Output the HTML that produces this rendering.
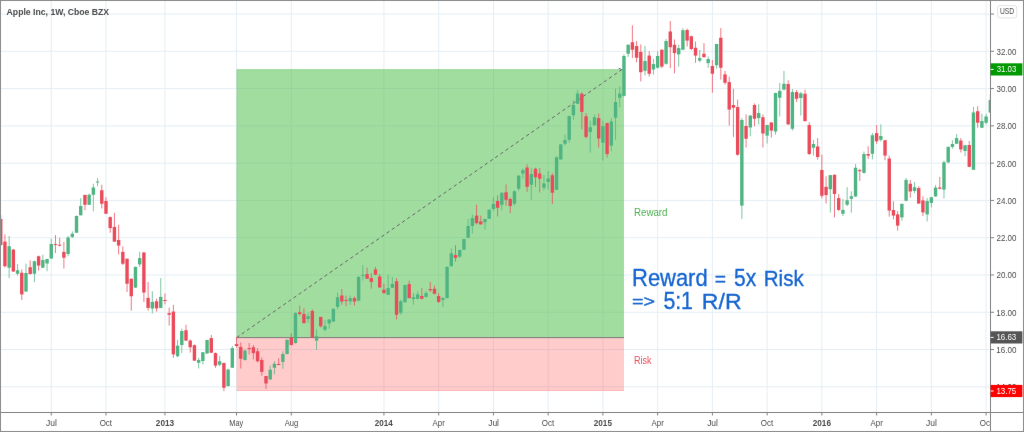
<!DOCTYPE html>
<html><head><meta charset="utf-8"><style>
html,body{margin:0;padding:0;background:#fff;}
body{width:1024px;height:432px;overflow:hidden;position:relative;font-family:"Liberation Sans",sans-serif;}
#wrap{position:absolute;left:0;top:0;width:1024px;height:432px;will-change:transform;}
</style></head><body><div id="wrap">
<svg width="1024" height="432" viewBox="0 0 1024 432" style="position:absolute;left:0;top:0;display:block">
<rect x="0" y="0" width="1024" height="432" fill="#ffffff"/>
<defs><filter id="bl" x="0" y="0" width="1" height="1" filterUnits="objectBoundingBox" color-interpolation-filters="sRGB"><feConvolveMatrix order="3" kernelMatrix="0.00163 0.03713 0.00163 0.03713 0.84497 0.03713 0.00163 0.03713 0.00163" divisor="1" edgeMode="duplicate" preserveAlpha="true"/></filter></defs><g filter="url(#bl)">
<rect x="0" y="0" width="1024" height="432" fill="#ffffff"/>
<defs><clipPath id="cc"><rect x="1" y="1" width="989" height="411"/></clipPath></defs>
<g clip-path="url(#cc)">
<rect x="50.75" y="0" width="1" height="412" fill="#e4eef5"/>
<rect x="105.49" y="0" width="1" height="412" fill="#e4eef5"/>
<rect x="164.45" y="0" width="1" height="412" fill="#e4eef5"/>
<rect x="236.03" y="0" width="1" height="412" fill="#e4eef5"/>
<rect x="290.78" y="0" width="1" height="412" fill="#e4eef5"/>
<rect x="383.42" y="0" width="1" height="412" fill="#e4eef5"/>
<rect x="438.16" y="0" width="1" height="412" fill="#e4eef5"/>
<rect x="492.91" y="0" width="1" height="412" fill="#e4eef5"/>
<rect x="547.65" y="0" width="1" height="412" fill="#e4eef5"/>
<rect x="602.39" y="0" width="1" height="412" fill="#e4eef5"/>
<rect x="657.13" y="0" width="1" height="412" fill="#e4eef5"/>
<rect x="711.88" y="0" width="1" height="412" fill="#e4eef5"/>
<rect x="766.62" y="0" width="1" height="412" fill="#e4eef5"/>
<rect x="821.36" y="0" width="1" height="412" fill="#e4eef5"/>
<rect x="876.11" y="0" width="1" height="412" fill="#e4eef5"/>
<rect x="930.85" y="0" width="1" height="412" fill="#e4eef5"/>
<rect x="985.59" y="0" width="1" height="412" fill="#e4eef5"/>
<rect x="0" y="13.52" width="990" height="1" fill="#e4eef5"/>
<rect x="0" y="50.80" width="990" height="1" fill="#e4eef5"/>
<rect x="0" y="88.08" width="990" height="1" fill="#e4eef5"/>
<rect x="0" y="125.36" width="990" height="1" fill="#e4eef5"/>
<rect x="0" y="162.64" width="990" height="1" fill="#e4eef5"/>
<rect x="0" y="199.92" width="990" height="1" fill="#e4eef5"/>
<rect x="0" y="237.20" width="990" height="1" fill="#e4eef5"/>
<rect x="0" y="274.48" width="990" height="1" fill="#e4eef5"/>
<rect x="0" y="311.76" width="990" height="1" fill="#e4eef5"/>
<rect x="0" y="349.04" width="990" height="1" fill="#e4eef5"/>
<rect x="0" y="386.32" width="990" height="1" fill="#e4eef5"/>
<rect x="236.6" y="69.2" width="387.40" height="268.40" fill="rgba(69,187,65,0.5)"/>
<rect x="236.6" y="337.6" width="387.40" height="53.40" fill="rgba(255,82,82,0.30)"/>
<rect x="236.6" y="69.2" width="387.40" height="1" fill="rgba(0,140,0,0.10)"/>
<rect x="236.6" y="70.2" width="1" height="267.40" fill="rgba(0,140,0,0.10)"/>
<rect x="236.6" y="390.0" width="387.40" height="1" fill="rgba(255,0,0,0.10)"/>
<rect x="236.6" y="337.10" width="387.40" height="1" fill="#7a7a7a"/>
<line x1="236.6" y1="337.6" x2="621.8" y2="69.6" stroke="#666666" stroke-width="1" stroke-dasharray="3.4 2.9"/>
<polyline points="618.6,68.2 621.8,69.6" stroke="#707070" stroke-width="1" fill="none"/>
<rect x="0.22" y="215.00" width="1" height="31.00" fill="#ea4b5b" fill-opacity="0.75"/>
<rect x="-0.98" y="219.00" width="3.4" height="26.00" fill="#ea4b5b"/>
<rect x="4.43" y="234.40" width="1" height="33.10" fill="#ea4b5b" fill-opacity="0.75"/>
<rect x="3.23" y="241.60" width="3.4" height="24.65" fill="#ea4b5b"/>
<rect x="8.64" y="236.00" width="1" height="42.10" fill="#4fb482" fill-opacity="0.75"/>
<rect x="7.44" y="246.25" width="3.4" height="21.50" fill="#4fb482"/>
<rect x="12.85" y="249.00" width="1" height="23.00" fill="#ea4b5b" fill-opacity="0.75"/>
<rect x="11.65" y="249.60" width="3.4" height="21.90" fill="#ea4b5b"/>
<rect x="17.06" y="264.00" width="1" height="11.60" fill="#4fb482" fill-opacity="0.75"/>
<rect x="15.86" y="270.25" width="3.4" height="3.50" fill="#4fb482"/>
<rect x="21.27" y="269.40" width="1" height="30.60" fill="#ea4b5b" fill-opacity="0.75"/>
<rect x="20.07" y="272.75" width="3.4" height="21.65" fill="#ea4b5b"/>
<rect x="25.48" y="263.75" width="1" height="28.25" fill="#4fb482" fill-opacity="0.75"/>
<rect x="24.28" y="273.00" width="3.4" height="18.50" fill="#4fb482"/>
<rect x="29.70" y="260.40" width="1" height="14.10" fill="#ea4b5b" fill-opacity="0.75"/>
<rect x="28.50" y="267.25" width="3.4" height="6.75" fill="#ea4b5b"/>
<rect x="33.91" y="260.60" width="1" height="21.65" fill="#4fb482" fill-opacity="0.75"/>
<rect x="32.71" y="261.25" width="3.4" height="12.50" fill="#4fb482"/>
<rect x="38.12" y="255.60" width="1" height="15.00" fill="#ea4b5b" fill-opacity="0.75"/>
<rect x="36.92" y="256.25" width="3.4" height="9.35" fill="#ea4b5b"/>
<rect x="42.33" y="254.75" width="1" height="13.35" fill="#4fb482" fill-opacity="0.75"/>
<rect x="41.13" y="260.00" width="3.4" height="7.75" fill="#4fb482"/>
<rect x="46.54" y="258.75" width="1" height="12.50" fill="#4fb482" fill-opacity="0.75"/>
<rect x="45.34" y="259.00" width="3.4" height="4.50" fill="#4fb482"/>
<rect x="50.75" y="238.75" width="1" height="20.00" fill="#4fb482" fill-opacity="0.75"/>
<rect x="49.55" y="244.00" width="3.4" height="14.50" fill="#4fb482"/>
<rect x="54.96" y="235.00" width="1" height="18.10" fill="#ea4b5b" fill-opacity="0.75"/>
<rect x="53.76" y="244.10" width="3.4" height="1.00" fill="#ea4b5b"/>
<rect x="59.17" y="237.75" width="1" height="8.50" fill="#ea4b5b" fill-opacity="0.75"/>
<rect x="57.97" y="244.75" width="3.4" height="1.00" fill="#ea4b5b"/>
<rect x="63.38" y="241.90" width="1" height="26.60" fill="#ea4b5b" fill-opacity="0.75"/>
<rect x="62.18" y="251.90" width="3.4" height="5.85" fill="#ea4b5b"/>
<rect x="67.59" y="236.00" width="1" height="20.25" fill="#4fb482" fill-opacity="0.75"/>
<rect x="66.39" y="237.50" width="3.4" height="16.50" fill="#4fb482"/>
<rect x="71.81" y="231.25" width="1" height="6.85" fill="#4fb482" fill-opacity="0.75"/>
<rect x="70.61" y="233.75" width="3.4" height="3.15" fill="#4fb482"/>
<rect x="76.02" y="215.50" width="1" height="17.50" fill="#4fb482" fill-opacity="0.75"/>
<rect x="74.82" y="216.00" width="3.4" height="16.75" fill="#4fb482"/>
<rect x="80.23" y="198.10" width="1" height="17.50" fill="#4fb482" fill-opacity="0.75"/>
<rect x="79.03" y="206.00" width="3.4" height="9.25" fill="#4fb482"/>
<rect x="84.44" y="194.40" width="1" height="15.85" fill="#ea4b5b" fill-opacity="0.75"/>
<rect x="83.24" y="195.00" width="3.4" height="9.75" fill="#ea4b5b"/>
<rect x="88.65" y="193.50" width="1" height="11.50" fill="#4fb482" fill-opacity="0.75"/>
<rect x="87.45" y="194.75" width="3.4" height="10.00" fill="#4fb482"/>
<rect x="92.86" y="183.75" width="1" height="27.50" fill="#4fb482" fill-opacity="0.75"/>
<rect x="91.66" y="187.50" width="3.4" height="7.25" fill="#4fb482"/>
<rect x="97.07" y="178.00" width="1" height="8.25" fill="#4fb482" fill-opacity="0.75"/>
<rect x="95.87" y="181.50" width="3.4" height="1.00" fill="#4fb482"/>
<rect x="101.28" y="184.75" width="1" height="23.75" fill="#ea4b5b" fill-opacity="0.75"/>
<rect x="100.08" y="190.25" width="3.4" height="13.50" fill="#ea4b5b"/>
<rect x="105.49" y="197.25" width="1" height="16.75" fill="#ea4b5b" fill-opacity="0.75"/>
<rect x="104.29" y="201.00" width="3.4" height="12.75" fill="#ea4b5b"/>
<rect x="109.70" y="216.50" width="1" height="16.25" fill="#ea4b5b" fill-opacity="0.75"/>
<rect x="108.50" y="217.10" width="3.4" height="11.00" fill="#ea4b5b"/>
<rect x="113.92" y="212.75" width="1" height="29.25" fill="#ea4b5b" fill-opacity="0.75"/>
<rect x="112.72" y="226.90" width="3.4" height="14.70" fill="#ea4b5b"/>
<rect x="118.13" y="224.75" width="1" height="29.65" fill="#ea4b5b" fill-opacity="0.75"/>
<rect x="116.93" y="240.00" width="3.4" height="5.60" fill="#ea4b5b"/>
<rect x="122.34" y="246.25" width="1" height="18.75" fill="#ea4b5b" fill-opacity="0.75"/>
<rect x="121.14" y="251.90" width="3.4" height="11.85" fill="#ea4b5b"/>
<rect x="126.55" y="258.50" width="1" height="33.40" fill="#ea4b5b" fill-opacity="0.75"/>
<rect x="125.35" y="258.75" width="3.4" height="25.00" fill="#ea4b5b"/>
<rect x="130.76" y="278.50" width="1" height="32.10" fill="#ea4b5b" fill-opacity="0.75"/>
<rect x="129.56" y="278.75" width="3.4" height="17.50" fill="#ea4b5b"/>
<rect x="134.97" y="266.50" width="1" height="21.50" fill="#4fb482" fill-opacity="0.75"/>
<rect x="133.77" y="266.90" width="3.4" height="20.70" fill="#4fb482"/>
<rect x="139.18" y="251.90" width="1" height="15.00" fill="#4fb482" fill-opacity="0.75"/>
<rect x="137.98" y="258.10" width="3.4" height="6.30" fill="#4fb482"/>
<rect x="143.39" y="252.00" width="1" height="49.90" fill="#ea4b5b" fill-opacity="0.75"/>
<rect x="142.19" y="252.50" width="3.4" height="40.00" fill="#ea4b5b"/>
<rect x="147.60" y="281.90" width="1" height="28.70" fill="#ea4b5b" fill-opacity="0.75"/>
<rect x="146.40" y="297.90" width="3.4" height="10.00" fill="#ea4b5b"/>
<rect x="151.81" y="291.25" width="1" height="22.25" fill="#4fb482" fill-opacity="0.75"/>
<rect x="150.61" y="301.90" width="3.4" height="6.60" fill="#4fb482"/>
<rect x="156.03" y="298.75" width="1" height="12.75" fill="#ea4b5b" fill-opacity="0.75"/>
<rect x="154.83" y="301.25" width="3.4" height="7.15" fill="#ea4b5b"/>
<rect x="160.24" y="278.10" width="1" height="30.10" fill="#4fb482" fill-opacity="0.75"/>
<rect x="159.04" y="296.90" width="3.4" height="11.00" fill="#4fb482"/>
<rect x="164.45" y="293.50" width="1" height="10.90" fill="#ea4b5b" fill-opacity="0.75"/>
<rect x="163.25" y="300.00" width="3.4" height="1.00" fill="#ea4b5b"/>
<rect x="168.66" y="307.50" width="1" height="18.10" fill="#ea4b5b" fill-opacity="0.75"/>
<rect x="167.46" y="313.10" width="3.4" height="1.65" fill="#ea4b5b"/>
<rect x="172.87" y="304.75" width="1" height="53.00" fill="#ea4b5b" fill-opacity="0.75"/>
<rect x="171.67" y="311.60" width="3.4" height="42.80" fill="#ea4b5b"/>
<rect x="177.08" y="339.75" width="1" height="17.50" fill="#4fb482" fill-opacity="0.75"/>
<rect x="175.88" y="345.60" width="3.4" height="10.65" fill="#4fb482"/>
<rect x="181.29" y="328.75" width="1" height="24.35" fill="#4fb482" fill-opacity="0.75"/>
<rect x="180.09" y="331.00" width="3.4" height="14.00" fill="#4fb482"/>
<rect x="185.50" y="324.75" width="1" height="16.25" fill="#ea4b5b" fill-opacity="0.75"/>
<rect x="184.30" y="330.25" width="3.4" height="10.35" fill="#ea4b5b"/>
<rect x="189.71" y="339.40" width="1" height="13.10" fill="#ea4b5b" fill-opacity="0.75"/>
<rect x="188.51" y="340.60" width="3.4" height="6.65" fill="#ea4b5b"/>
<rect x="193.92" y="344.40" width="1" height="16.60" fill="#ea4b5b" fill-opacity="0.75"/>
<rect x="192.72" y="345.25" width="3.4" height="15.35" fill="#ea4b5b"/>
<rect x="198.14" y="357.75" width="1" height="10.75" fill="#4fb482" fill-opacity="0.75"/>
<rect x="196.94" y="360.00" width="3.4" height="2.75" fill="#4fb482"/>
<rect x="202.35" y="352.00" width="1" height="12.40" fill="#4fb482" fill-opacity="0.75"/>
<rect x="201.15" y="352.25" width="3.4" height="8.75" fill="#4fb482"/>
<rect x="206.56" y="339.75" width="1" height="14.00" fill="#4fb482" fill-opacity="0.75"/>
<rect x="205.36" y="340.00" width="3.4" height="13.50" fill="#4fb482"/>
<rect x="210.77" y="335.00" width="1" height="18.10" fill="#ea4b5b" fill-opacity="0.75"/>
<rect x="209.57" y="338.10" width="3.4" height="14.65" fill="#ea4b5b"/>
<rect x="214.98" y="352.50" width="1" height="15.25" fill="#ea4b5b" fill-opacity="0.75"/>
<rect x="213.78" y="353.10" width="3.4" height="12.50" fill="#ea4b5b"/>
<rect x="219.19" y="356.00" width="1" height="10.25" fill="#4fb482" fill-opacity="0.75"/>
<rect x="217.99" y="361.25" width="3.4" height="3.50" fill="#4fb482"/>
<rect x="223.40" y="362.50" width="1" height="28.60" fill="#ea4b5b" fill-opacity="0.75"/>
<rect x="222.20" y="363.00" width="3.4" height="24.75" fill="#ea4b5b"/>
<rect x="227.61" y="368.75" width="1" height="17.75" fill="#4fb482" fill-opacity="0.75"/>
<rect x="226.41" y="369.50" width="3.4" height="16.60" fill="#4fb482"/>
<rect x="231.82" y="346.00" width="1" height="22.00" fill="#4fb482" fill-opacity="0.75"/>
<rect x="230.62" y="348.10" width="3.4" height="19.65" fill="#4fb482"/>
<rect x="236.03" y="336.90" width="1" height="10.60" fill="#ea4b5b" fill-opacity="0.75"/>
<rect x="234.83" y="344.10" width="3.4" height="1.90" fill="#ea4b5b"/>
<rect x="240.25" y="342.50" width="1" height="26.00" fill="#ea4b5b" fill-opacity="0.75"/>
<rect x="239.05" y="346.90" width="3.4" height="11.85" fill="#ea4b5b"/>
<rect x="244.46" y="349.40" width="1" height="11.20" fill="#4fb482" fill-opacity="0.75"/>
<rect x="243.26" y="350.60" width="3.4" height="9.40" fill="#4fb482"/>
<rect x="248.67" y="343.10" width="1" height="11.30" fill="#ea4b5b" fill-opacity="0.75"/>
<rect x="247.47" y="348.10" width="3.4" height="1.00" fill="#ea4b5b"/>
<rect x="252.88" y="345.00" width="1" height="14.40" fill="#ea4b5b" fill-opacity="0.75"/>
<rect x="251.68" y="347.25" width="3.4" height="5.85" fill="#ea4b5b"/>
<rect x="257.09" y="348.10" width="1" height="14.40" fill="#ea4b5b" fill-opacity="0.75"/>
<rect x="255.89" y="351.25" width="3.4" height="10.00" fill="#ea4b5b"/>
<rect x="261.30" y="357.50" width="1" height="18.10" fill="#ea4b5b" fill-opacity="0.75"/>
<rect x="260.10" y="360.00" width="3.4" height="11.90" fill="#ea4b5b"/>
<rect x="265.51" y="376.00" width="1" height="13.00" fill="#ea4b5b" fill-opacity="0.75"/>
<rect x="264.31" y="376.00" width="3.4" height="7.50" fill="#ea4b5b"/>
<rect x="269.72" y="365.60" width="1" height="14.40" fill="#4fb482" fill-opacity="0.75"/>
<rect x="268.52" y="369.75" width="3.4" height="9.65" fill="#4fb482"/>
<rect x="273.93" y="361.25" width="1" height="13.15" fill="#4fb482" fill-opacity="0.75"/>
<rect x="272.73" y="363.75" width="3.4" height="4.00" fill="#4fb482"/>
<rect x="278.14" y="358.10" width="1" height="7.10" fill="#ea4b5b" fill-opacity="0.75"/>
<rect x="276.94" y="364.00" width="3.4" height="1.00" fill="#ea4b5b"/>
<rect x="282.36" y="351.25" width="1" height="17.50" fill="#4fb482" fill-opacity="0.75"/>
<rect x="281.16" y="354.00" width="3.4" height="7.90" fill="#4fb482"/>
<rect x="286.57" y="339.50" width="1" height="14.90" fill="#4fb482" fill-opacity="0.75"/>
<rect x="285.37" y="339.75" width="3.4" height="14.25" fill="#4fb482"/>
<rect x="290.78" y="333.10" width="1" height="12.50" fill="#ea4b5b" fill-opacity="0.75"/>
<rect x="289.58" y="337.75" width="3.4" height="7.25" fill="#ea4b5b"/>
<rect x="294.99" y="312.25" width="1" height="31.25" fill="#4fb482" fill-opacity="0.75"/>
<rect x="293.79" y="313.10" width="3.4" height="30.00" fill="#4fb482"/>
<rect x="299.20" y="305.60" width="1" height="10.00" fill="#ea4b5b" fill-opacity="0.75"/>
<rect x="298.00" y="312.25" width="3.4" height="1.75" fill="#ea4b5b"/>
<rect x="303.41" y="308.10" width="1" height="15.65" fill="#ea4b5b" fill-opacity="0.75"/>
<rect x="302.21" y="314.00" width="3.4" height="9.10" fill="#ea4b5b"/>
<rect x="307.62" y="313.10" width="1" height="9.40" fill="#4fb482" fill-opacity="0.75"/>
<rect x="306.42" y="316.25" width="3.4" height="2.75" fill="#4fb482"/>
<rect x="311.83" y="309.40" width="1" height="28.70" fill="#ea4b5b" fill-opacity="0.75"/>
<rect x="310.63" y="311.00" width="3.4" height="26.75" fill="#ea4b5b"/>
<rect x="316.04" y="329.40" width="1" height="20.60" fill="#4fb482" fill-opacity="0.75"/>
<rect x="314.84" y="336.25" width="3.4" height="4.35" fill="#4fb482"/>
<rect x="320.25" y="316.90" width="1" height="10.60" fill="#ea4b5b" fill-opacity="0.75"/>
<rect x="319.05" y="316.90" width="3.4" height="9.35" fill="#ea4b5b"/>
<rect x="324.47" y="320.00" width="1" height="11.25" fill="#4fb482" fill-opacity="0.75"/>
<rect x="323.27" y="326.00" width="3.4" height="3.75" fill="#4fb482"/>
<rect x="328.68" y="319.40" width="1" height="9.35" fill="#4fb482" fill-opacity="0.75"/>
<rect x="327.48" y="319.40" width="3.4" height="4.10" fill="#4fb482"/>
<rect x="332.89" y="308.75" width="1" height="13.15" fill="#4fb482" fill-opacity="0.75"/>
<rect x="331.69" y="308.75" width="3.4" height="12.75" fill="#4fb482"/>
<rect x="337.10" y="292.60" width="1" height="16.80" fill="#4fb482" fill-opacity="0.75"/>
<rect x="335.90" y="297.25" width="3.4" height="9.65" fill="#4fb482"/>
<rect x="341.31" y="289.00" width="1" height="15.75" fill="#ea4b5b" fill-opacity="0.75"/>
<rect x="340.11" y="295.50" width="3.4" height="6.00" fill="#ea4b5b"/>
<rect x="345.52" y="295.60" width="1" height="10.65" fill="#ea4b5b" fill-opacity="0.75"/>
<rect x="344.32" y="300.00" width="3.4" height="1.00" fill="#ea4b5b"/>
<rect x="349.73" y="295.40" width="1" height="9.60" fill="#4fb482" fill-opacity="0.75"/>
<rect x="348.53" y="298.10" width="3.4" height="3.30" fill="#4fb482"/>
<rect x="353.94" y="296.40" width="1" height="9.20" fill="#ea4b5b" fill-opacity="0.75"/>
<rect x="352.74" y="298.10" width="3.4" height="3.40" fill="#ea4b5b"/>
<rect x="358.15" y="276.25" width="1" height="25.00" fill="#4fb482" fill-opacity="0.75"/>
<rect x="356.95" y="276.90" width="3.4" height="23.70" fill="#4fb482"/>
<rect x="362.36" y="265.00" width="1" height="15.60" fill="#4fb482" fill-opacity="0.75"/>
<rect x="361.16" y="275.00" width="3.4" height="1.00" fill="#4fb482"/>
<rect x="366.58" y="267.50" width="1" height="11.50" fill="#ea4b5b" fill-opacity="0.75"/>
<rect x="365.38" y="274.10" width="3.4" height="4.65" fill="#ea4b5b"/>
<rect x="370.79" y="273.10" width="1" height="15.65" fill="#ea4b5b" fill-opacity="0.75"/>
<rect x="369.59" y="278.10" width="3.4" height="3.80" fill="#ea4b5b"/>
<rect x="375.00" y="266.90" width="1" height="8.10" fill="#ea4b5b" fill-opacity="0.75"/>
<rect x="373.80" y="269.40" width="3.4" height="5.35" fill="#ea4b5b"/>
<rect x="379.21" y="274.00" width="1" height="13.75" fill="#ea4b5b" fill-opacity="0.75"/>
<rect x="378.01" y="276.50" width="3.4" height="11.00" fill="#ea4b5b"/>
<rect x="383.42" y="283.75" width="1" height="9.75" fill="#ea4b5b" fill-opacity="0.75"/>
<rect x="382.22" y="289.75" width="3.4" height="3.35" fill="#ea4b5b"/>
<rect x="387.63" y="274.75" width="1" height="20.25" fill="#4fb482" fill-opacity="0.75"/>
<rect x="386.43" y="288.10" width="3.4" height="6.65" fill="#4fb482"/>
<rect x="391.84" y="276.90" width="1" height="11.20" fill="#4fb482" fill-opacity="0.75"/>
<rect x="390.64" y="284.00" width="3.4" height="3.75" fill="#4fb482"/>
<rect x="396.05" y="278.10" width="1" height="41.40" fill="#ea4b5b" fill-opacity="0.75"/>
<rect x="394.85" y="281.25" width="3.4" height="33.50" fill="#ea4b5b"/>
<rect x="400.26" y="299.75" width="1" height="15.00" fill="#4fb482" fill-opacity="0.75"/>
<rect x="399.06" y="301.25" width="3.4" height="11.50" fill="#4fb482"/>
<rect x="404.47" y="284.75" width="1" height="17.75" fill="#4fb482" fill-opacity="0.75"/>
<rect x="403.27" y="285.00" width="3.4" height="17.25" fill="#4fb482"/>
<rect x="408.69" y="280.60" width="1" height="17.90" fill="#ea4b5b" fill-opacity="0.75"/>
<rect x="407.49" y="284.00" width="3.4" height="14.10" fill="#ea4b5b"/>
<rect x="412.90" y="293.10" width="1" height="11.65" fill="#4fb482" fill-opacity="0.75"/>
<rect x="411.70" y="297.25" width="3.4" height="1.75" fill="#4fb482"/>
<rect x="417.11" y="291.50" width="1" height="7.90" fill="#4fb482" fill-opacity="0.75"/>
<rect x="415.91" y="294.40" width="3.4" height="4.35" fill="#4fb482"/>
<rect x="421.32" y="288.10" width="1" height="11.30" fill="#ea4b5b" fill-opacity="0.75"/>
<rect x="420.12" y="296.00" width="3.4" height="2.75" fill="#ea4b5b"/>
<rect x="425.53" y="291.00" width="1" height="6.50" fill="#4fb482" fill-opacity="0.75"/>
<rect x="424.33" y="293.10" width="3.4" height="3.80" fill="#4fb482"/>
<rect x="429.74" y="281.90" width="1" height="10.00" fill="#ea4b5b" fill-opacity="0.75"/>
<rect x="428.54" y="289.00" width="3.4" height="1.25" fill="#ea4b5b"/>
<rect x="433.95" y="285.60" width="1" height="8.80" fill="#ea4b5b" fill-opacity="0.75"/>
<rect x="432.75" y="288.75" width="3.4" height="5.00" fill="#ea4b5b"/>
<rect x="438.16" y="293.10" width="1" height="10.00" fill="#ea4b5b" fill-opacity="0.75"/>
<rect x="436.96" y="296.00" width="3.4" height="5.90" fill="#ea4b5b"/>
<rect x="442.37" y="296.90" width="1" height="10.35" fill="#4fb482" fill-opacity="0.75"/>
<rect x="441.17" y="298.10" width="3.4" height="1.90" fill="#4fb482"/>
<rect x="446.58" y="266.25" width="1" height="32.25" fill="#4fb482" fill-opacity="0.75"/>
<rect x="445.38" y="266.90" width="3.4" height="31.20" fill="#4fb482"/>
<rect x="450.80" y="248.30" width="1" height="18.30" fill="#4fb482" fill-opacity="0.75"/>
<rect x="449.60" y="253.25" width="3.4" height="13.00" fill="#4fb482"/>
<rect x="455.01" y="245.20" width="1" height="16.40" fill="#ea4b5b" fill-opacity="0.75"/>
<rect x="453.81" y="255.00" width="3.4" height="2.90" fill="#ea4b5b"/>
<rect x="459.22" y="249.75" width="1" height="8.15" fill="#4fb482" fill-opacity="0.75"/>
<rect x="458.02" y="250.00" width="3.4" height="6.60" fill="#4fb482"/>
<rect x="463.43" y="238.75" width="1" height="11.25" fill="#4fb482" fill-opacity="0.75"/>
<rect x="462.23" y="239.10" width="3.4" height="10.65" fill="#4fb482"/>
<rect x="467.64" y="219.00" width="1" height="19.10" fill="#4fb482" fill-opacity="0.75"/>
<rect x="466.44" y="226.00" width="3.4" height="11.75" fill="#4fb482"/>
<rect x="471.85" y="214.40" width="1" height="19.10" fill="#4fb482" fill-opacity="0.75"/>
<rect x="470.65" y="218.10" width="3.4" height="7.90" fill="#4fb482"/>
<rect x="476.06" y="204.75" width="1" height="19.65" fill="#ea4b5b" fill-opacity="0.75"/>
<rect x="474.86" y="215.60" width="3.4" height="7.50" fill="#ea4b5b"/>
<rect x="480.27" y="215.60" width="1" height="9.00" fill="#ea4b5b" fill-opacity="0.75"/>
<rect x="479.07" y="221.50" width="3.4" height="2.90" fill="#ea4b5b"/>
<rect x="484.48" y="218.75" width="1" height="11.00" fill="#4fb482" fill-opacity="0.75"/>
<rect x="483.28" y="219.00" width="3.4" height="3.25" fill="#4fb482"/>
<rect x="488.69" y="209.40" width="1" height="9.60" fill="#4fb482" fill-opacity="0.75"/>
<rect x="487.49" y="209.75" width="3.4" height="9.00" fill="#4fb482"/>
<rect x="492.91" y="196.90" width="1" height="14.35" fill="#4fb482" fill-opacity="0.75"/>
<rect x="491.71" y="204.00" width="3.4" height="5.00" fill="#4fb482"/>
<rect x="497.12" y="195.25" width="1" height="21.25" fill="#ea4b5b" fill-opacity="0.75"/>
<rect x="495.92" y="201.00" width="3.4" height="6.75" fill="#ea4b5b"/>
<rect x="501.33" y="192.25" width="1" height="18.35" fill="#4fb482" fill-opacity="0.75"/>
<rect x="500.13" y="192.75" width="3.4" height="12.00" fill="#4fb482"/>
<rect x="505.54" y="184.40" width="1" height="21.20" fill="#ea4b5b" fill-opacity="0.75"/>
<rect x="504.34" y="192.25" width="3.4" height="7.50" fill="#ea4b5b"/>
<rect x="509.75" y="197.50" width="1" height="15.60" fill="#ea4b5b" fill-opacity="0.75"/>
<rect x="508.55" y="199.00" width="3.4" height="7.00" fill="#ea4b5b"/>
<rect x="513.96" y="190.25" width="1" height="15.35" fill="#4fb482" fill-opacity="0.75"/>
<rect x="512.76" y="191.25" width="3.4" height="12.50" fill="#4fb482"/>
<rect x="518.17" y="175.25" width="1" height="15.75" fill="#4fb482" fill-opacity="0.75"/>
<rect x="516.97" y="175.60" width="3.4" height="13.15" fill="#4fb482"/>
<rect x="522.38" y="168.50" width="1" height="10.25" fill="#4fb482" fill-opacity="0.75"/>
<rect x="521.18" y="170.25" width="3.4" height="3.25" fill="#4fb482"/>
<rect x="526.59" y="164.40" width="1" height="27.50" fill="#ea4b5b" fill-opacity="0.75"/>
<rect x="525.39" y="167.50" width="3.4" height="19.40" fill="#ea4b5b"/>
<rect x="530.80" y="167.75" width="1" height="32.25" fill="#4fb482" fill-opacity="0.75"/>
<rect x="529.60" y="174.00" width="3.4" height="10.75" fill="#4fb482"/>
<rect x="535.02" y="167.75" width="1" height="19.15" fill="#ea4b5b" fill-opacity="0.75"/>
<rect x="533.82" y="168.75" width="3.4" height="8.50" fill="#ea4b5b"/>
<rect x="539.23" y="168.10" width="1" height="24.40" fill="#ea4b5b" fill-opacity="0.75"/>
<rect x="538.03" y="173.50" width="3.4" height="5.25" fill="#ea4b5b"/>
<rect x="543.44" y="175.00" width="1" height="15.60" fill="#4fb482" fill-opacity="0.75"/>
<rect x="542.24" y="183.50" width="3.4" height="4.25" fill="#4fb482"/>
<rect x="547.65" y="171.00" width="1" height="18.40" fill="#4fb482" fill-opacity="0.75"/>
<rect x="546.45" y="178.50" width="3.4" height="3.40" fill="#4fb482"/>
<rect x="551.86" y="173.10" width="1" height="30.90" fill="#ea4b5b" fill-opacity="0.75"/>
<rect x="550.66" y="175.25" width="3.4" height="17.50" fill="#ea4b5b"/>
<rect x="556.07" y="156.25" width="1" height="33.75" fill="#4fb482" fill-opacity="0.75"/>
<rect x="554.87" y="157.25" width="3.4" height="32.50" fill="#4fb482"/>
<rect x="560.28" y="144.00" width="1" height="15.75" fill="#4fb482" fill-opacity="0.75"/>
<rect x="559.08" y="144.40" width="3.4" height="15.00" fill="#4fb482"/>
<rect x="564.49" y="134.40" width="1" height="11.20" fill="#4fb482" fill-opacity="0.75"/>
<rect x="563.29" y="140.00" width="3.4" height="3.75" fill="#4fb482"/>
<rect x="568.70" y="115.60" width="1" height="27.15" fill="#4fb482" fill-opacity="0.75"/>
<rect x="567.50" y="116.00" width="3.4" height="23.75" fill="#4fb482"/>
<rect x="572.91" y="100.25" width="1" height="19.50" fill="#4fb482" fill-opacity="0.75"/>
<rect x="571.71" y="105.00" width="3.4" height="10.25" fill="#4fb482"/>
<rect x="577.12" y="90.00" width="1" height="14.00" fill="#4fb482" fill-opacity="0.75"/>
<rect x="575.92" y="93.50" width="3.4" height="10.25" fill="#4fb482"/>
<rect x="581.34" y="92.25" width="1" height="37.15" fill="#ea4b5b" fill-opacity="0.75"/>
<rect x="580.14" y="93.75" width="3.4" height="18.15" fill="#ea4b5b"/>
<rect x="585.55" y="113.10" width="1" height="25.40" fill="#ea4b5b" fill-opacity="0.75"/>
<rect x="584.35" y="116.25" width="3.4" height="20.65" fill="#ea4b5b"/>
<rect x="589.76" y="120.60" width="1" height="31.90" fill="#4fb482" fill-opacity="0.75"/>
<rect x="588.56" y="127.25" width="3.4" height="4.65" fill="#4fb482"/>
<rect x="593.97" y="114.40" width="1" height="11.20" fill="#4fb482" fill-opacity="0.75"/>
<rect x="592.77" y="117.25" width="3.4" height="8.00" fill="#4fb482"/>
<rect x="598.18" y="113.50" width="1" height="34.00" fill="#ea4b5b" fill-opacity="0.75"/>
<rect x="596.98" y="118.10" width="3.4" height="20.40" fill="#ea4b5b"/>
<rect x="602.39" y="120.60" width="1" height="40.00" fill="#4fb482" fill-opacity="0.75"/>
<rect x="601.19" y="126.25" width="3.4" height="16.50" fill="#4fb482"/>
<rect x="606.60" y="122.50" width="1" height="35.00" fill="#ea4b5b" fill-opacity="0.75"/>
<rect x="605.40" y="123.10" width="3.4" height="30.90" fill="#ea4b5b"/>
<rect x="610.81" y="118.10" width="1" height="33.15" fill="#4fb482" fill-opacity="0.75"/>
<rect x="609.61" y="121.50" width="3.4" height="24.10" fill="#4fb482"/>
<rect x="615.02" y="88.75" width="1" height="51.00" fill="#4fb482" fill-opacity="0.75"/>
<rect x="613.82" y="102.00" width="3.4" height="15.75" fill="#4fb482"/>
<rect x="619.24" y="86.40" width="1" height="20.80" fill="#4fb482" fill-opacity="0.75"/>
<rect x="618.03" y="93.60" width="3.4" height="4.15" fill="#4fb482"/>
<rect x="623.45" y="54.40" width="1" height="42.10" fill="#4fb482" fill-opacity="0.75"/>
<rect x="622.25" y="56.00" width="3.4" height="39.90" fill="#4fb482"/>
<rect x="627.66" y="44.50" width="1" height="12.40" fill="#4fb482" fill-opacity="0.75"/>
<rect x="626.46" y="44.75" width="3.4" height="9.00" fill="#4fb482"/>
<rect x="631.87" y="25.25" width="1" height="32.85" fill="#ea4b5b" fill-opacity="0.75"/>
<rect x="630.67" y="42.25" width="3.4" height="7.50" fill="#ea4b5b"/>
<rect x="636.08" y="41.00" width="1" height="21.25" fill="#ea4b5b" fill-opacity="0.75"/>
<rect x="634.88" y="46.00" width="3.4" height="11.75" fill="#ea4b5b"/>
<rect x="640.29" y="44.40" width="1" height="37.10" fill="#ea4b5b" fill-opacity="0.75"/>
<rect x="639.09" y="51.90" width="3.4" height="20.30" fill="#ea4b5b"/>
<rect x="644.50" y="46.00" width="1" height="29.50" fill="#4fb482" fill-opacity="0.75"/>
<rect x="643.30" y="61.00" width="3.4" height="9.80" fill="#4fb482"/>
<rect x="648.71" y="51.25" width="1" height="25.25" fill="#ea4b5b" fill-opacity="0.75"/>
<rect x="647.51" y="55.60" width="3.4" height="18.15" fill="#ea4b5b"/>
<rect x="652.92" y="59.00" width="1" height="15.60" fill="#4fb482" fill-opacity="0.75"/>
<rect x="651.72" y="64.00" width="3.4" height="5.50" fill="#4fb482"/>
<rect x="657.13" y="51.25" width="1" height="17.15" fill="#4fb482" fill-opacity="0.75"/>
<rect x="655.93" y="56.00" width="3.4" height="11.75" fill="#4fb482"/>
<rect x="661.35" y="49.40" width="1" height="18.70" fill="#ea4b5b" fill-opacity="0.75"/>
<rect x="660.14" y="49.75" width="3.4" height="16.85" fill="#ea4b5b"/>
<rect x="665.56" y="39.00" width="1" height="25.75" fill="#4fb482" fill-opacity="0.75"/>
<rect x="664.36" y="41.00" width="3.4" height="22.75" fill="#4fb482"/>
<rect x="669.77" y="21.00" width="1" height="47.10" fill="#ea4b5b" fill-opacity="0.75"/>
<rect x="668.57" y="31.50" width="3.4" height="15.75" fill="#ea4b5b"/>
<rect x="673.98" y="39.40" width="1" height="33.90" fill="#ea4b5b" fill-opacity="0.75"/>
<rect x="672.78" y="44.75" width="3.4" height="8.35" fill="#ea4b5b"/>
<rect x="678.19" y="44.75" width="1" height="21.95" fill="#4fb482" fill-opacity="0.75"/>
<rect x="676.99" y="48.10" width="3.4" height="6.30" fill="#4fb482"/>
<rect x="682.40" y="28.10" width="1" height="21.90" fill="#4fb482" fill-opacity="0.75"/>
<rect x="681.20" y="30.25" width="3.4" height="19.50" fill="#4fb482"/>
<rect x="686.61" y="28.50" width="1" height="18.00" fill="#ea4b5b" fill-opacity="0.75"/>
<rect x="685.41" y="30.00" width="3.4" height="10.60" fill="#ea4b5b"/>
<rect x="690.82" y="35.60" width="1" height="14.40" fill="#ea4b5b" fill-opacity="0.75"/>
<rect x="689.62" y="36.25" width="3.4" height="12.75" fill="#ea4b5b"/>
<rect x="695.03" y="41.50" width="1" height="21.25" fill="#ea4b5b" fill-opacity="0.75"/>
<rect x="693.83" y="47.75" width="3.4" height="7.85" fill="#ea4b5b"/>
<rect x="699.24" y="50.00" width="1" height="12.25" fill="#4fb482" fill-opacity="0.75"/>
<rect x="698.04" y="58.10" width="3.4" height="2.50" fill="#4fb482"/>
<rect x="703.46" y="43.10" width="1" height="14.40" fill="#ea4b5b" fill-opacity="0.75"/>
<rect x="702.25" y="53.75" width="3.4" height="3.50" fill="#ea4b5b"/>
<rect x="707.67" y="56.50" width="1" height="11.40" fill="#4fb482" fill-opacity="0.75"/>
<rect x="706.47" y="59.00" width="3.4" height="4.10" fill="#4fb482"/>
<rect x="711.88" y="60.00" width="1" height="32.75" fill="#ea4b5b" fill-opacity="0.75"/>
<rect x="710.68" y="66.00" width="3.4" height="7.75" fill="#ea4b5b"/>
<rect x="716.09" y="43.75" width="1" height="25.00" fill="#4fb482" fill-opacity="0.75"/>
<rect x="714.89" y="44.00" width="3.4" height="21.25" fill="#4fb482"/>
<rect x="720.30" y="28.10" width="1" height="51.50" fill="#ea4b5b" fill-opacity="0.75"/>
<rect x="719.10" y="37.75" width="3.4" height="30.00" fill="#ea4b5b"/>
<rect x="724.51" y="70.90" width="1" height="13.70" fill="#ea4b5b" fill-opacity="0.75"/>
<rect x="723.31" y="74.40" width="3.4" height="8.35" fill="#ea4b5b"/>
<rect x="728.72" y="76.75" width="1" height="48.85" fill="#ea4b5b" fill-opacity="0.75"/>
<rect x="727.52" y="82.10" width="3.4" height="27.50" fill="#ea4b5b"/>
<rect x="732.93" y="88.75" width="1" height="48.15" fill="#ea4b5b" fill-opacity="0.75"/>
<rect x="731.73" y="105.00" width="3.4" height="2.75" fill="#ea4b5b"/>
<rect x="737.14" y="99.60" width="1" height="56.00" fill="#ea4b5b" fill-opacity="0.75"/>
<rect x="735.94" y="107.10" width="3.4" height="47.65" fill="#ea4b5b"/>
<rect x="741.35" y="118.00" width="1" height="101.00" fill="#4fb482" fill-opacity="0.75"/>
<rect x="740.15" y="120.00" width="3.4" height="85.60" fill="#4fb482"/>
<rect x="745.57" y="114.40" width="1" height="33.10" fill="#ea4b5b" fill-opacity="0.75"/>
<rect x="744.37" y="126.00" width="3.4" height="12.75" fill="#ea4b5b"/>
<rect x="749.78" y="114.90" width="1" height="21.35" fill="#4fb482" fill-opacity="0.75"/>
<rect x="748.58" y="115.60" width="3.4" height="11.90" fill="#4fb482"/>
<rect x="753.99" y="103.40" width="1" height="22.85" fill="#ea4b5b" fill-opacity="0.75"/>
<rect x="752.79" y="105.00" width="3.4" height="13.75" fill="#ea4b5b"/>
<rect x="758.20" y="104.25" width="1" height="20.15" fill="#4fb482" fill-opacity="0.75"/>
<rect x="757.00" y="113.10" width="3.4" height="5.00" fill="#4fb482"/>
<rect x="762.41" y="114.40" width="1" height="33.10" fill="#ea4b5b" fill-opacity="0.75"/>
<rect x="761.21" y="117.25" width="3.4" height="16.25" fill="#ea4b5b"/>
<rect x="766.62" y="124.75" width="1" height="18.75" fill="#4fb482" fill-opacity="0.75"/>
<rect x="765.42" y="125.00" width="3.4" height="10.60" fill="#4fb482"/>
<rect x="770.83" y="122.25" width="1" height="15.25" fill="#ea4b5b" fill-opacity="0.75"/>
<rect x="769.63" y="122.50" width="3.4" height="8.10" fill="#ea4b5b"/>
<rect x="775.04" y="92.75" width="1" height="42.00" fill="#4fb482" fill-opacity="0.75"/>
<rect x="773.84" y="93.00" width="3.4" height="38.50" fill="#4fb482"/>
<rect x="779.25" y="83.00" width="1" height="33.50" fill="#4fb482" fill-opacity="0.75"/>
<rect x="778.05" y="90.90" width="3.4" height="6.85" fill="#4fb482"/>
<rect x="783.46" y="70.90" width="1" height="19.35" fill="#4fb482" fill-opacity="0.75"/>
<rect x="782.26" y="83.75" width="3.4" height="5.85" fill="#4fb482"/>
<rect x="787.68" y="80.25" width="1" height="44.50" fill="#ea4b5b" fill-opacity="0.75"/>
<rect x="786.48" y="84.00" width="3.4" height="40.40" fill="#ea4b5b"/>
<rect x="791.89" y="89.00" width="1" height="41.60" fill="#4fb482" fill-opacity="0.75"/>
<rect x="790.69" y="92.10" width="3.4" height="36.65" fill="#4fb482"/>
<rect x="796.10" y="90.00" width="1" height="12.10" fill="#ea4b5b" fill-opacity="0.75"/>
<rect x="794.90" y="92.10" width="3.4" height="6.65" fill="#ea4b5b"/>
<rect x="800.31" y="91.75" width="1" height="23.75" fill="#4fb482" fill-opacity="0.75"/>
<rect x="799.11" y="93.40" width="3.4" height="4.60" fill="#4fb482"/>
<rect x="804.52" y="89.60" width="1" height="32.30" fill="#ea4b5b" fill-opacity="0.75"/>
<rect x="803.32" y="93.75" width="3.4" height="27.25" fill="#ea4b5b"/>
<rect x="808.73" y="122.25" width="1" height="32.75" fill="#ea4b5b" fill-opacity="0.75"/>
<rect x="807.53" y="125.00" width="3.4" height="29.00" fill="#ea4b5b"/>
<rect x="812.94" y="140.00" width="1" height="15.60" fill="#4fb482" fill-opacity="0.75"/>
<rect x="811.74" y="144.00" width="3.4" height="3.75" fill="#4fb482"/>
<rect x="817.15" y="138.10" width="1" height="21.50" fill="#ea4b5b" fill-opacity="0.75"/>
<rect x="815.95" y="146.50" width="3.4" height="10.50" fill="#ea4b5b"/>
<rect x="821.36" y="154.60" width="1" height="43.70" fill="#ea4b5b" fill-opacity="0.75"/>
<rect x="820.16" y="170.00" width="3.4" height="25.80" fill="#ea4b5b"/>
<rect x="825.57" y="176.25" width="1" height="27.25" fill="#ea4b5b" fill-opacity="0.75"/>
<rect x="824.37" y="186.90" width="3.4" height="8.20" fill="#ea4b5b"/>
<rect x="829.79" y="174.90" width="1" height="37.60" fill="#4fb482" fill-opacity="0.75"/>
<rect x="828.59" y="175.10" width="3.4" height="14.10" fill="#4fb482"/>
<rect x="834.00" y="174.50" width="1" height="42.90" fill="#ea4b5b" fill-opacity="0.75"/>
<rect x="832.80" y="174.75" width="3.4" height="19.25" fill="#ea4b5b"/>
<rect x="838.21" y="194.00" width="1" height="17.00" fill="#ea4b5b" fill-opacity="0.75"/>
<rect x="837.01" y="198.10" width="3.4" height="11.80" fill="#ea4b5b"/>
<rect x="842.42" y="199.00" width="1" height="17.00" fill="#4fb482" fill-opacity="0.75"/>
<rect x="841.22" y="209.90" width="3.4" height="3.85" fill="#4fb482"/>
<rect x="846.63" y="187.25" width="1" height="19.00" fill="#4fb482" fill-opacity="0.75"/>
<rect x="845.43" y="200.25" width="3.4" height="4.50" fill="#4fb482"/>
<rect x="850.84" y="191.25" width="1" height="21.35" fill="#4fb482" fill-opacity="0.75"/>
<rect x="849.64" y="196.25" width="3.4" height="2.50" fill="#4fb482"/>
<rect x="855.05" y="164.00" width="1" height="32.90" fill="#4fb482" fill-opacity="0.75"/>
<rect x="853.85" y="167.75" width="3.4" height="28.75" fill="#4fb482"/>
<rect x="859.26" y="168.75" width="1" height="12.25" fill="#ea4b5b" fill-opacity="0.75"/>
<rect x="858.06" y="170.10" width="3.4" height="1.10" fill="#ea4b5b"/>
<rect x="863.47" y="151.50" width="1" height="22.00" fill="#4fb482" fill-opacity="0.75"/>
<rect x="862.27" y="154.00" width="3.4" height="18.90" fill="#4fb482"/>
<rect x="867.68" y="146.25" width="1" height="12.75" fill="#ea4b5b" fill-opacity="0.75"/>
<rect x="866.48" y="154.00" width="3.4" height="1.60" fill="#ea4b5b"/>
<rect x="871.90" y="133.10" width="1" height="26.30" fill="#4fb482" fill-opacity="0.75"/>
<rect x="870.70" y="135.25" width="3.4" height="18.50" fill="#4fb482"/>
<rect x="876.11" y="125.00" width="1" height="18.75" fill="#ea4b5b" fill-opacity="0.75"/>
<rect x="874.91" y="133.10" width="3.4" height="8.15" fill="#ea4b5b"/>
<rect x="880.32" y="124.40" width="1" height="17.10" fill="#4fb482" fill-opacity="0.75"/>
<rect x="879.12" y="136.00" width="3.4" height="3.75" fill="#4fb482"/>
<rect x="884.53" y="140.00" width="1" height="20.25" fill="#ea4b5b" fill-opacity="0.75"/>
<rect x="883.33" y="140.25" width="3.4" height="15.35" fill="#ea4b5b"/>
<rect x="888.74" y="155.60" width="1" height="61.10" fill="#ea4b5b" fill-opacity="0.75"/>
<rect x="887.54" y="158.50" width="3.4" height="52.10" fill="#ea4b5b"/>
<rect x="892.95" y="201.25" width="1" height="18.15" fill="#ea4b5b" fill-opacity="0.75"/>
<rect x="891.75" y="210.00" width="3.4" height="5.60" fill="#ea4b5b"/>
<rect x="897.16" y="211.00" width="1" height="19.60" fill="#ea4b5b" fill-opacity="0.75"/>
<rect x="895.96" y="214.40" width="3.4" height="11.20" fill="#ea4b5b"/>
<rect x="901.37" y="203.50" width="1" height="17.10" fill="#4fb482" fill-opacity="0.75"/>
<rect x="900.17" y="203.90" width="3.4" height="13.50" fill="#4fb482"/>
<rect x="905.58" y="178.10" width="1" height="23.10" fill="#4fb482" fill-opacity="0.75"/>
<rect x="904.38" y="179.90" width="3.4" height="20.90" fill="#4fb482"/>
<rect x="909.79" y="180.00" width="1" height="17.75" fill="#ea4b5b" fill-opacity="0.75"/>
<rect x="908.59" y="183.75" width="3.4" height="7.75" fill="#ea4b5b"/>
<rect x="914.01" y="181.90" width="1" height="11.20" fill="#4fb482" fill-opacity="0.75"/>
<rect x="912.81" y="187.25" width="3.4" height="3.75" fill="#4fb482"/>
<rect x="918.22" y="186.25" width="1" height="17.65" fill="#ea4b5b" fill-opacity="0.75"/>
<rect x="917.02" y="188.10" width="3.4" height="15.40" fill="#ea4b5b"/>
<rect x="922.43" y="196.25" width="1" height="19.75" fill="#ea4b5b" fill-opacity="0.75"/>
<rect x="921.23" y="200.40" width="3.4" height="12.00" fill="#ea4b5b"/>
<rect x="926.64" y="198.10" width="1" height="23.40" fill="#4fb482" fill-opacity="0.75"/>
<rect x="925.44" y="201.10" width="3.4" height="13.30" fill="#4fb482"/>
<rect x="930.85" y="196.90" width="1" height="10.60" fill="#4fb482" fill-opacity="0.75"/>
<rect x="929.65" y="197.25" width="3.4" height="5.65" fill="#4fb482"/>
<rect x="935.06" y="185.00" width="1" height="11.70" fill="#4fb482" fill-opacity="0.75"/>
<rect x="933.86" y="187.60" width="3.4" height="8.80" fill="#4fb482"/>
<rect x="939.27" y="177.00" width="1" height="12.40" fill="#ea4b5b" fill-opacity="0.75"/>
<rect x="938.07" y="187.50" width="3.4" height="1.25" fill="#ea4b5b"/>
<rect x="943.48" y="160.60" width="1" height="37.90" fill="#4fb482" fill-opacity="0.75"/>
<rect x="942.28" y="162.25" width="3.4" height="27.35" fill="#4fb482"/>
<rect x="947.69" y="146.50" width="1" height="17.00" fill="#4fb482" fill-opacity="0.75"/>
<rect x="946.49" y="146.90" width="3.4" height="15.35" fill="#4fb482"/>
<rect x="951.90" y="140.25" width="1" height="8.50" fill="#4fb482" fill-opacity="0.75"/>
<rect x="950.70" y="144.00" width="3.4" height="2.90" fill="#4fb482"/>
<rect x="956.12" y="134.00" width="1" height="10.00" fill="#4fb482" fill-opacity="0.75"/>
<rect x="954.91" y="138.10" width="3.4" height="5.65" fill="#4fb482"/>
<rect x="960.33" y="138.10" width="1" height="14.40" fill="#ea4b5b" fill-opacity="0.75"/>
<rect x="959.13" y="140.60" width="3.4" height="8.80" fill="#ea4b5b"/>
<rect x="964.54" y="144.90" width="1" height="11.35" fill="#4fb482" fill-opacity="0.75"/>
<rect x="963.34" y="145.25" width="3.4" height="5.75" fill="#4fb482"/>
<rect x="968.75" y="141.00" width="1" height="26.20" fill="#ea4b5b" fill-opacity="0.75"/>
<rect x="967.55" y="145.00" width="3.4" height="21.90" fill="#ea4b5b"/>
<rect x="972.96" y="106.90" width="1" height="63.10" fill="#4fb482" fill-opacity="0.75"/>
<rect x="971.76" y="112.50" width="3.4" height="57.25" fill="#4fb482"/>
<rect x="977.17" y="106.25" width="1" height="21.50" fill="#ea4b5b" fill-opacity="0.75"/>
<rect x="975.97" y="111.25" width="3.4" height="11.50" fill="#ea4b5b"/>
<rect x="981.38" y="113.75" width="1" height="14.35" fill="#4fb482" fill-opacity="0.75"/>
<rect x="980.18" y="121.00" width="3.4" height="6.75" fill="#4fb482"/>
<rect x="985.59" y="114.00" width="1" height="10.40" fill="#4fb482" fill-opacity="0.75"/>
<rect x="984.39" y="116.50" width="3.4" height="6.25" fill="#4fb482"/>
<rect x="989.80" y="94.40" width="1" height="18.60" fill="#4fb482" fill-opacity="0.75"/>
<rect x="988.60" y="100.00" width="3.4" height="12.50" fill="#4fb482"/>
</g>
<text x="6.60" y="15.20" font-family="Liberation Sans, sans-serif" font-weight="bold" font-size="8.6" fill="#4a4a4a" textLength="102.48" lengthAdjust="spacingAndGlyphs" >Apple Inc, 1W, Cboe BZX</text>
<text x="633.96" y="215.80" font-family="Liberation Sans, sans-serif"  font-size="10.4" fill="#4caf50" textLength="33.54" lengthAdjust="spacingAndGlyphs" >Reward</text>
<text x="634.02" y="363.80" font-family="Liberation Sans, sans-serif"  font-size="10.4" fill="#e84a5a" textLength="17.60" lengthAdjust="spacingAndGlyphs" >Risk</text>
<text x="632.04" y="285.90" font-family="Liberation Sans, sans-serif" font-size="23.43" fill="#1766d0" stroke="#1766d0" stroke-width="0.35" textLength="75.61" lengthAdjust="spacingAndGlyphs">Reward</text>
<text x="714.77" y="284.97" font-family="Liberation Sans, sans-serif" font-size="18.78" fill="#1766d0" stroke="#1766d0" stroke-width="0.35" textLength="11.25" lengthAdjust="spacingAndGlyphs">=</text>
<text x="734.11" y="286.01" font-family="Liberation Sans, sans-serif" font-size="22.99" fill="#1766d0" stroke="#1766d0" stroke-width="0.35" textLength="22.18" lengthAdjust="spacingAndGlyphs">5x</text>
<text x="763.75" y="286.01" font-family="Liberation Sans, sans-serif" font-size="22.61" fill="#1766d0" stroke="#1766d0" stroke-width="0.35" textLength="40.03" lengthAdjust="spacingAndGlyphs">Risk</text>
<text x="631.90" y="307.43" font-family="Liberation Sans, sans-serif" font-size="16.19" fill="#1766d0" stroke="#1766d0" stroke-width="0.35" textLength="23.09" lengthAdjust="spacingAndGlyphs">=&gt;</text>
<text x="663.40" y="308.80" font-family="Liberation Sans, sans-serif" font-size="23.27" fill="#1766d0" stroke="#1766d0" stroke-width="0.35" textLength="29.52" lengthAdjust="spacingAndGlyphs">5:1</text>
<text x="701.75" y="308.81" font-family="Liberation Sans, sans-serif" font-size="22.47" fill="#1766d0" stroke="#1766d0" stroke-width="0.35" textLength="39.84" lengthAdjust="spacingAndGlyphs">R/R</text>
<rect x="990" y="0" width="1" height="432" fill="#808080"/>
<rect x="0" y="412" width="1024" height="1" fill="#808080"/>
<rect x="0" y="0" width="1024" height="1" fill="#8c8c8c"/>
<rect x="0" y="0" width="1" height="432" fill="#8c8c8c"/>
<rect x="1023" y="0" width="1" height="432" fill="#8c8c8c"/>
<rect x="0" y="431" width="1024" height="1" fill="#8c8c8c"/>
<rect x="991" y="13.52" width="3" height="1" fill="#808080"/>
<rect x="991" y="50.80" width="3" height="1" fill="#808080"/>
<text x="996.57" y="54.70" font-family="Liberation Sans, sans-serif"  font-size="9.6" fill="#4a4a4a" textLength="19.88" lengthAdjust="spacingAndGlyphs" >32.00</text>
<rect x="991" y="88.08" width="3" height="1" fill="#808080"/>
<text x="996.57" y="91.98" font-family="Liberation Sans, sans-serif"  font-size="9.6" fill="#4a4a4a" textLength="19.88" lengthAdjust="spacingAndGlyphs" >30.00</text>
<rect x="991" y="125.36" width="3" height="1" fill="#808080"/>
<text x="996.48" y="129.26" font-family="Liberation Sans, sans-serif"  font-size="9.6" fill="#4a4a4a" textLength="19.97" lengthAdjust="spacingAndGlyphs" >28.00</text>
<rect x="991" y="162.64" width="3" height="1" fill="#808080"/>
<text x="996.48" y="166.54" font-family="Liberation Sans, sans-serif"  font-size="9.6" fill="#4a4a4a" textLength="19.97" lengthAdjust="spacingAndGlyphs" >26.00</text>
<rect x="991" y="199.92" width="3" height="1" fill="#808080"/>
<text x="996.48" y="203.82" font-family="Liberation Sans, sans-serif"  font-size="9.6" fill="#4a4a4a" textLength="19.97" lengthAdjust="spacingAndGlyphs" >24.00</text>
<rect x="991" y="237.20" width="3" height="1" fill="#808080"/>
<text x="996.48" y="241.10" font-family="Liberation Sans, sans-serif"  font-size="9.6" fill="#4a4a4a" textLength="19.97" lengthAdjust="spacingAndGlyphs" >22.00</text>
<rect x="991" y="274.48" width="3" height="1" fill="#808080"/>
<text x="996.48" y="278.38" font-family="Liberation Sans, sans-serif"  font-size="9.6" fill="#4a4a4a" textLength="19.97" lengthAdjust="spacingAndGlyphs" >20.00</text>
<rect x="991" y="311.76" width="3" height="1" fill="#808080"/>
<text x="996.31" y="315.66" font-family="Liberation Sans, sans-serif"  font-size="9.6" fill="#4a4a4a" textLength="20.14" lengthAdjust="spacingAndGlyphs" >18.00</text>
<rect x="991" y="349.04" width="3" height="1" fill="#808080"/>
<text x="996.31" y="352.94" font-family="Liberation Sans, sans-serif"  font-size="9.6" fill="#4a4a4a" textLength="20.14" lengthAdjust="spacingAndGlyphs" >16.00</text>
<rect x="991" y="386.32" width="3" height="1" fill="#808080"/>
<text x="996.31" y="390.22" font-family="Liberation Sans, sans-serif"  font-size="9.6" fill="#4a4a4a" textLength="20.14" lengthAdjust="spacingAndGlyphs" >14.00</text>
<rect x="990.6" y="63.30" width="31.8" height="12.2" fill="#009900"/>
<rect x="990.6" y="68.90" width="3" height="1" fill="#ffffff"/>
<text x="996.66" y="72.40" font-family="Liberation Sans, sans-serif"  font-size="9.2" fill="#ffffff" textLength="19.60" lengthAdjust="spacingAndGlyphs" >31.03</text>
<rect x="990.6" y="331.30" width="31.8" height="12.2" fill="#555555"/>
<rect x="990.6" y="336.90" width="3" height="1" fill="#ffffff"/>
<text x="996.40" y="340.40" font-family="Liberation Sans, sans-serif"  font-size="9.2" fill="#ffffff" textLength="19.87" lengthAdjust="spacingAndGlyphs" >16.63</text>
<rect x="990.6" y="384.90" width="31.8" height="12.2" fill="#ff0000"/>
<rect x="990.6" y="390.50" width="3" height="1" fill="#ffffff"/>
<text x="996.40" y="394.00" font-family="Liberation Sans, sans-serif"  font-size="9.2" fill="#ffffff" textLength="19.87" lengthAdjust="spacingAndGlyphs" >13.75</text>
<rect x="997.6" y="5.6" width="19.2" height="12.3" rx="2.5" fill="#ffffff" stroke="#dfe3ea" stroke-width="1"/>
<text x="999.96" y="13.90" font-family="Liberation Sans, sans-serif"  font-size="8.8" fill="#4a4a4a" textLength="14.23" lengthAdjust="spacingAndGlyphs" >USD</text>
<defs><clipPath id="tc"><rect x="1" y="413" width="989" height="18"/></clipPath></defs><g clip-path="url(#tc)">
<rect x="50.75" y="413" width="1" height="2.5" fill="#808080"/>
<text x="46.01" y="426.10" font-family="Liberation Sans, sans-serif"  font-size="9" fill="#4a4a4a" textLength="10.86" lengthAdjust="spacingAndGlyphs" >Jul</text>
<rect x="105.49" y="413" width="1" height="2.5" fill="#808080"/>
<text x="99.64" y="426.10" font-family="Liberation Sans, sans-serif"  font-size="9" fill="#4a4a4a" textLength="12.45" lengthAdjust="spacingAndGlyphs" >Oct</text>
<rect x="164.45" y="413" width="1" height="2.5" fill="#808080"/>
<text x="155.82" y="426.10" font-family="Liberation Sans, sans-serif" font-weight="bold" font-size="9" fill="#4a4a4a" textLength="18.27" lengthAdjust="spacingAndGlyphs" >2013</text>
<rect x="236.03" y="413" width="1" height="2.5" fill="#808080"/>
<text x="229.26" y="426.10" font-family="Liberation Sans, sans-serif"  font-size="9" fill="#4a4a4a" textLength="13.98" lengthAdjust="spacingAndGlyphs" >May</text>
<rect x="290.78" y="413" width="1" height="2.5" fill="#808080"/>
<text x="284.74" y="426.10" font-family="Liberation Sans, sans-serif"  font-size="9" fill="#4a4a4a" textLength="13.50" lengthAdjust="spacingAndGlyphs" >Aug</text>
<rect x="383.42" y="413" width="1" height="2.5" fill="#808080"/>
<text x="374.80" y="426.10" font-family="Liberation Sans, sans-serif" font-weight="bold" font-size="9" fill="#4a4a4a" textLength="17.99" lengthAdjust="spacingAndGlyphs" >2014</text>
<rect x="438.16" y="413" width="1" height="2.5" fill="#808080"/>
<text x="432.60" y="426.10" font-family="Liberation Sans, sans-serif"  font-size="9" fill="#4a4a4a" textLength="12.22" lengthAdjust="spacingAndGlyphs" >Apr</text>
<rect x="492.91" y="413" width="1" height="2.5" fill="#808080"/>
<text x="488.17" y="426.10" font-family="Liberation Sans, sans-serif"  font-size="9" fill="#4a4a4a" textLength="10.86" lengthAdjust="spacingAndGlyphs" >Jul</text>
<rect x="547.65" y="413" width="1" height="2.5" fill="#808080"/>
<text x="541.79" y="426.10" font-family="Liberation Sans, sans-serif"  font-size="9" fill="#4a4a4a" textLength="12.45" lengthAdjust="spacingAndGlyphs" >Oct</text>
<rect x="602.39" y="413" width="1" height="2.5" fill="#808080"/>
<text x="593.77" y="426.10" font-family="Liberation Sans, sans-serif" font-weight="bold" font-size="9" fill="#4a4a4a" textLength="18.17" lengthAdjust="spacingAndGlyphs" >2015</text>
<rect x="657.13" y="413" width="1" height="2.5" fill="#808080"/>
<text x="651.57" y="426.10" font-family="Liberation Sans, sans-serif"  font-size="9" fill="#4a4a4a" textLength="12.22" lengthAdjust="spacingAndGlyphs" >Apr</text>
<rect x="711.88" y="413" width="1" height="2.5" fill="#808080"/>
<text x="707.14" y="426.10" font-family="Liberation Sans, sans-serif"  font-size="9" fill="#4a4a4a" textLength="10.86" lengthAdjust="spacingAndGlyphs" >Jul</text>
<rect x="766.62" y="413" width="1" height="2.5" fill="#808080"/>
<text x="760.76" y="426.10" font-family="Liberation Sans, sans-serif"  font-size="9" fill="#4a4a4a" textLength="12.45" lengthAdjust="spacingAndGlyphs" >Oct</text>
<rect x="821.36" y="413" width="1" height="2.5" fill="#808080"/>
<text x="812.74" y="426.10" font-family="Liberation Sans, sans-serif" font-weight="bold" font-size="9" fill="#4a4a4a" textLength="18.27" lengthAdjust="spacingAndGlyphs" >2016</text>
<rect x="876.11" y="413" width="1" height="2.5" fill="#808080"/>
<text x="870.54" y="426.10" font-family="Liberation Sans, sans-serif"  font-size="9" fill="#4a4a4a" textLength="12.22" lengthAdjust="spacingAndGlyphs" >Apr</text>
<rect x="930.85" y="413" width="1" height="2.5" fill="#808080"/>
<text x="926.11" y="426.10" font-family="Liberation Sans, sans-serif"  font-size="9" fill="#4a4a4a" textLength="10.86" lengthAdjust="spacingAndGlyphs" >Jul</text>
<rect x="985.59" y="413" width="1" height="2.5" fill="#808080"/>
<text x="979.74" y="426.10" font-family="Liberation Sans, sans-serif"  font-size="9" fill="#4a4a4a" textLength="12.45" lengthAdjust="spacingAndGlyphs" >Oct</text>
</g>
</g>
</svg>
</div></body></html>
